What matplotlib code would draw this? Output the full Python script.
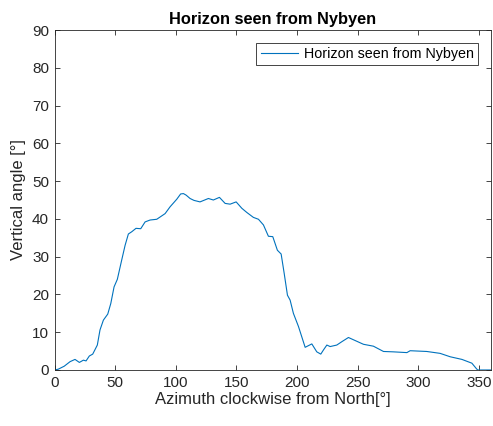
'''Horizon profile seen from Nybyen'''
import matplotlib
matplotlib.use('Agg')
import matplotlib.pyplot as plt

# azimuth [deg] and vertical angle [deg]
azimuth = [0, 3, 8, 12.8, 16.9, 20.5, 23.8, 26, 28.7, 31.5, 35.3, 37.5, 40.3,
           43.9, 46.4, 49.1, 51.8, 55.4, 58.2, 60.9, 63.7, 67.2, 71.1, 74.7,
           78.8, 84.3, 91.2, 95.3, 100.8, 104, 106.3, 108.5, 111.8, 115,
           120, 126.9, 131, 136, 140.7, 144.8, 149.8, 154.5, 158.6, 164,
           168.2, 172.3, 176.4, 180, 183.8, 186.9, 189.4, 192.1, 194.3, 197,
           201.2, 206.7, 212.2, 216.3, 219.6, 221.8, 224.6, 227.3, 232.8,
           237, 242.4, 247.9, 254.8, 263, 271.3, 279.5, 290.6, 293.3, 307,
           318, 326.3, 336, 344.2, 347.8, 349, 352, 360]
angle = [0, 0.2, 1.0, 2.2, 2.8, 2.0, 2.6, 2.4, 3.7, 4.2, 6.6, 10.6, 13.2,
         14.8, 17.6, 22.0, 24.0, 29.1, 33.0, 36.0, 36.6, 37.5, 37.4, 39.2,
         39.7, 39.9, 41.4, 43.2, 45.2, 46.6, 46.7, 46.3, 45.4, 44.9,
         44.5, 45.4, 45.0, 45.7, 44.1, 43.9, 44.5, 42.8, 41.7, 40.4,
         39.9, 38.4, 35.4, 35.3, 31.7, 30.7, 25.6, 19.8, 18.5, 15.0,
         11.5, 6.0, 6.9, 4.8, 4.2, 5.3, 6.6, 6.2, 6.6,
         7.5, 8.6, 7.8, 6.8, 6.3, 4.9, 4.8, 4.6, 5.1, 4.9,
         4.4, 3.5, 2.8, 1.8, 0.4, 0, 0, 0]
x_ticks = [0, 50, 100, 150, 200, 250, 300, 350]
y_ticks = [0, 10, 20, 30, 40, 50, 60, 70, 80, 90]

plt.rcParams['font.family'] = ['Liberation Sans', 'DejaVu Sans']
dark = '#262626'

fig = plt.figure(figsize=(4.93, 4.26), dpi=100)
ax = fig.add_axes([0.1106, 0.1315, 0.8854, 0.798])
ax.plot(azimuth, angle, color='#0072BD', linewidth=0.8,
        label='Horizon seen from Nybyen')

ax.set_xlim(0, 360)
ax.set_ylim(0, 90)
ax.set_xticks(x_ticks)
ax.set_yticks(y_ticks)
ax.tick_params(direction='in', length=3.5, width=0.6, colors=dark,
               labelsize=11, top=True, right=True, pad=4)
for spine in ax.spines.values():
    spine.set_color(dark)
    spine.set_linewidth(0.6)

ax.set_xlabel('Azimuth clockwise from North[°]', fontsize=12, color=dark,
              labelpad=2)
ax.set_ylabel('Vertical angle [°]', fontsize=12, color=dark, labelpad=4)
ax.set_title('Horizon seen from Nybyen', fontsize=11.8, fontweight='bold',
             color='black', pad=4)

leg = ax.legend(loc='upper right', fontsize=10.3, fancybox=False,
                edgecolor=dark, framealpha=1, handlelength=2.6,
                handletextpad=0.42, borderaxespad=0.9, borderpad=0.3)
leg.get_frame().set_linewidth(0.6)

fig.savefig('out.png', dpi=100)
